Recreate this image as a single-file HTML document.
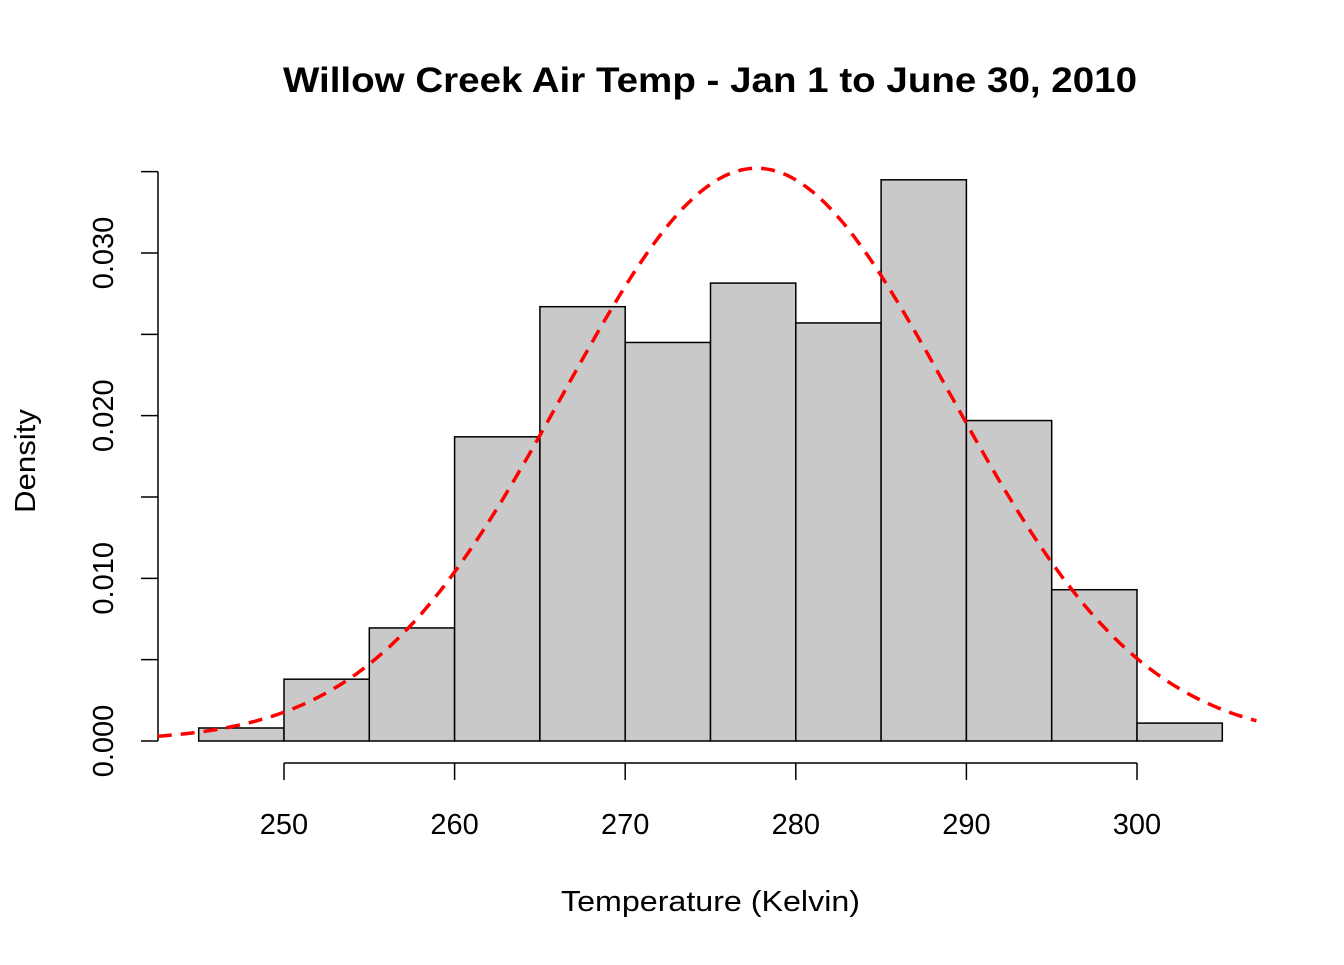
<!DOCTYPE html>
<html><head><meta charset="utf-8"><style>
body{margin:0;background:#fff}
svg text{font-family:"Liberation Sans",Arial,sans-serif}
</style></head><body>
<svg id="chart" width="1344" height="960" xmlns="http://www.w3.org/2000/svg">
<text x="283" y="92" font-size="35" font-weight="bold" textLength="854" lengthAdjust="spacingAndGlyphs">Willow Creek Air Temp - Jan 1 to June 30, 2010</text>
<text x="561" y="911" font-size="29" textLength="299" lengthAdjust="spacingAndGlyphs">Temperature (Kelvin)</text>
<text transform="translate(35,461) rotate(-90)" font-size="29" text-anchor="middle" textLength="104" lengthAdjust="spacingAndGlyphs">Density</text>
<g id="bars"></g><g id="axes"></g><path id="curve" fill="none" stroke="#ff0000" stroke-width="3.5" stroke-dasharray="14,9"/>
</svg>
<script>
const binStarts=[245,250,255,260,265,270,275,280,285,290,295,300];
const densities=[0.0008,0.0038,0.00695,0.0187,0.0267,0.0245,0.02815,0.0257,0.0345,0.0197,0.0093,0.0011];
const binWidth=5;
const xTicks=[250,260,270,280,290,300];
const yTicks=[0,0.005,0.01,0.015,0.02,0.025,0.03,0.035];
const yLabels=["0.000","","0.010","","0.020","","0.030",""];
const curveMean=277.7;
const curveSd=11.33;
const NS="http://www.w3.org/2000/svg";
const X=v=>284+(v-250)*(1137-284)/50;
const Y=v=>741-v*(741-253)/0.03;
const bars=document.getElementById('bars'),axes=document.getElementById('axes');
function mk(tag,attrs,parent){const e=document.createElementNS(NS,tag);for(const k in attrs)e.setAttribute(k,attrs[k]);parent.appendChild(e);return e;}
binStarts.forEach((b,i)=>{
 const r=mk('rect',{x:X(b),y:Y(densities[i]),width:X(b+binWidth)-X(b),height:Y(0)-Y(densities[i]),fill:'#c9c9c9',stroke:'#000','stroke-width':1.5},bars);
 
 
});
const xl=mk('line',{x1:X(xTicks[0]),x2:X(xTicks[xTicks.length-1]),y1:763,y2:763,stroke:'#000','stroke-width':1.5},axes);


xTicks.forEach(t=>{
 mk('line',{x1:X(t),x2:X(t),y1:763,y2:780,stroke:'#000','stroke-width':1.5},axes);
 const tx=mk('text',{x:X(t),y:834,'font-size':29,'text-anchor':'middle'},axes);tx.textContent=t;
 
 
});
const yl=mk('line',{x1:158,x2:158,y1:Y(0),y2:Y(yTicks[yTicks.length-1]),stroke:'#000','stroke-width':1.5},axes);


yTicks.forEach((t,i)=>{
 mk('line',{x1:141,x2:158,y1:Y(t),y2:Y(t),stroke:'#000','stroke-width':1.5},axes);
 if(yLabels[i]){const tx=mk('text',{transform:`translate(113,${Y(t)}) rotate(-90)`,'font-size':29,'text-anchor':'middle'},axes);tx.textContent=yLabels[i];
 
 }
});
let d='';
for(let v=242.6;v<=307.1;v+=0.2){const p=Math.exp(-0.5*((v-curveMean)/curveSd)**2)/(curveSd*Math.sqrt(2*Math.PI));d+=(d?'L':'M')+X(v).toFixed(1)+','+Y(p).toFixed(1);}
document.getElementById('curve').setAttribute('d',d);
</script>
</body></html>
